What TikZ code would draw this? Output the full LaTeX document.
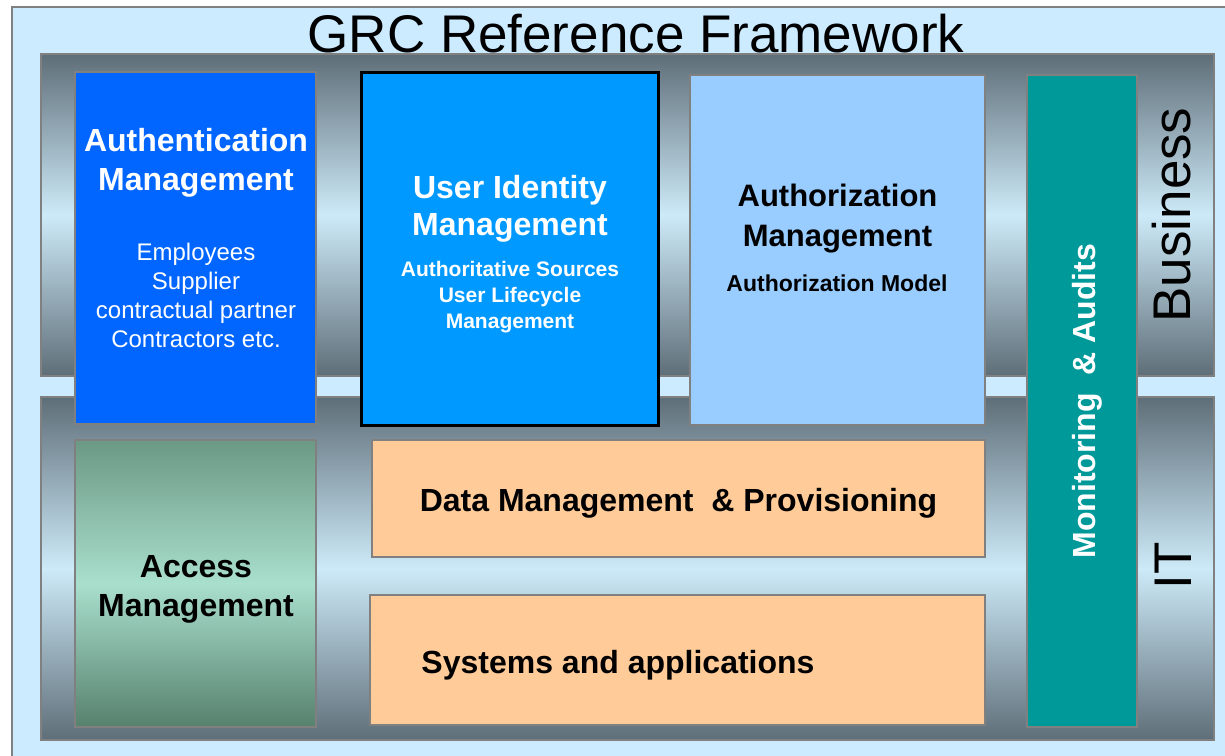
\documentclass[tikz,border=0pt]{standalone}
\usepackage{fontspec}
\setmainfont{Liberation Sans}
\definecolor{bglight}{HTML}{CCEBFF}
\definecolor{boxgray}{HTML}{808080}
\definecolor{banddark}{HTML}{5E6E78}
\definecolor{bandlight}{HTML}{CDEAF8}
\definecolor{authblue}{HTML}{0066FF}
\definecolor{uidblue}{HTML}{0099FF}
\definecolor{authzblue}{HTML}{99CCFF}
\definecolor{monteal}{HTML}{009999}
\definecolor{itorange}{HTML}{FFCC99}
\definecolor{acctop}{HTML}{6B9984}
\definecolor{accmid}{HTML}{A9DFCD}
\definecolor{accbot}{HTML}{56816D}
\tikzset{
  box/.style={draw=boxgray, line width=2pt, inner sep=0pt},
  band/.style={draw=boxgray, line width=1.5pt, inner sep=0pt, top color=banddark,
    bottom color=banddark, middle color=bandlight},
  head/.style={font=\bfseries\fontsize{32}{39}\selectfont, align=center},
  note/.style={font=\fontsize{24}{29}\selectfont, align=center},
  side/.style={font=\fontsize{53}{60}\selectfont, rotate=90, anchor=base}
}

\begin{document}
\begin{tikzpicture}[x=1pt, y=-1pt]
    \useasboundingbox (0,0) rectangle (1225,755);
    \clip (0,0) rectangle (1225,755);
    \fill[white] (0,0) rectangle (1225,755);
    \node[box, fill=bglight, minimum width=1240, minimum height=780, anchor=north west] (frame) at (11,6) {};
    \node[font=\fontsize{53}{60}\selectfont, anchor=base] (title) at (636,52) {GRC Reference Framework};
  % the two layers
    \node[band, minimum width=1173, minimum height=322] (business) at (627.5,215) {};
    \node[band, minimum width=1173, minimum height=343] (it) at (627.5,568.5) {};
    \node[side] (businessT) at (1190,215) {Business};
    \node[side] (itT) at (1191,566) {IT};
  % boxes
    \node[box, fill=authblue, minimum width=241, minimum height=352] (auth) at (195.5,248) {};
    \node[box, draw=black, line width=3pt, fill=uidblue, minimum width=297, minimum height=353] (uid) at (509.5,248.5) {};
    \node[box, fill=authzblue, minimum width=295, minimum height=350] (authz) at (837.5,250) {};
    \node[box, fill=monteal, minimum width=110, minimum height=652] (monitor) at (1082,401) {};
    \node[box, top color=acctop, bottom color=accbot, middle color=accmid, minimum width=241, minimum height=287] (access) at (195.5,583.5) {};
    \node[box, fill=itorange, minimum width=613, minimum height=117] (data) at (678.5,498.5) {};
    \node[box, fill=itorange, minimum width=615, minimum height=130] (sys) at (677.5,660) {};
  % texts
    \node[head, text=white] (authT) at (196,163) {Authentication\\Management};
    \node[note, text=white] (authL) at (196,295) {Employees\\Supplier\\contractual partner\\Contractors etc.};
    \node[head, text=white, font=\bfseries\fontsize{32}{37}\selectfont] (uidT) at (510,208.5) {User Identity\\Management};
    \node[head, text=white, font=\bfseries\fontsize{21}{26}\selectfont] (uidL) at (510,297) {Authoritative Sources\\User Lifecycle\\Management};
    \node[head, font=\bfseries\fontsize{31}{40}\selectfont] (authzT) at (837.5,219) {Authorization\\Management};
    \node[head, font=\bfseries\fontsize{23}{28}\selectfont, anchor=base] (authzL) at (837,291) {Authorization Model};
    \node[head, text=white, rotate=90, anchor=base] (monitorT) at (1095,401) {Monitoring\ \ \& Audits};
    \node[head] (accessT) at (196,589) {Access\\Management};
    \node[head, anchor=base] (dataT) at (678.5,511.5) {Data Management\ \ \& Provisioning};
    \node[head, anchor=base] (sysT) at (618,673.5) {Systems and applications};
\end{tikzpicture}
\end{document}
